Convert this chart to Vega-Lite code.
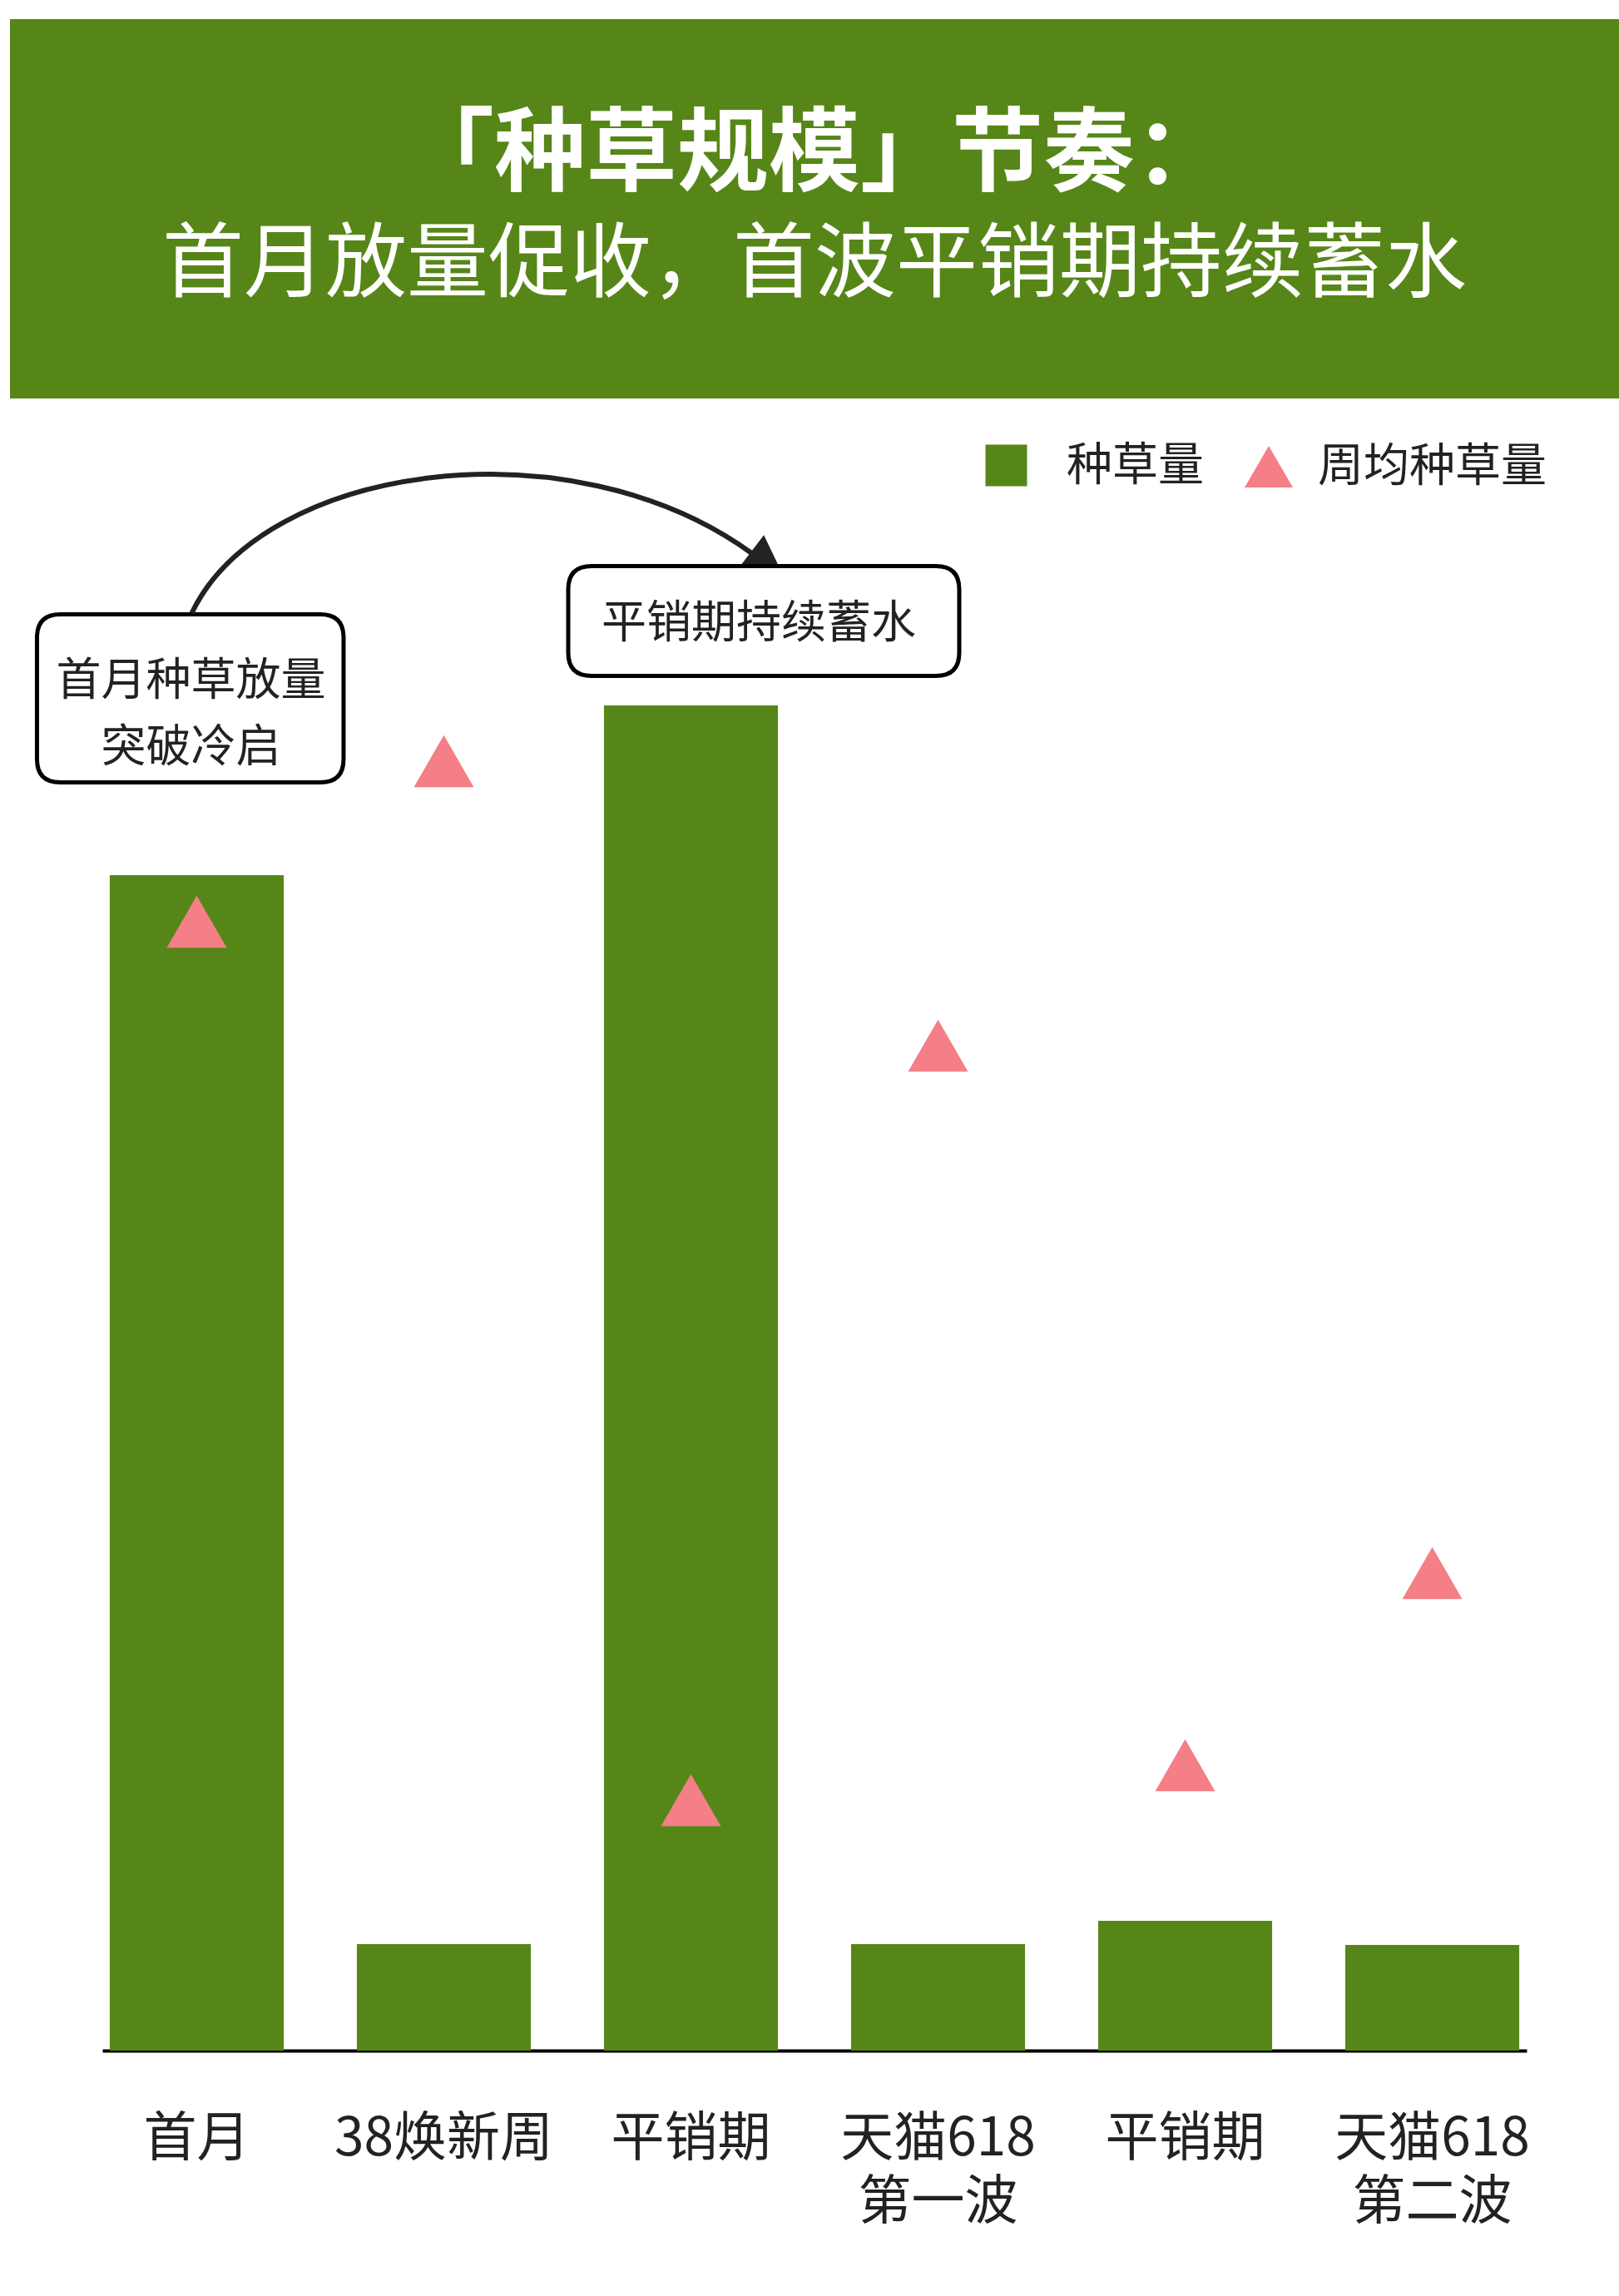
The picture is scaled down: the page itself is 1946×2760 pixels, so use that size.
{
  "$schema": "https://vega.github.io/schema/vega-lite/v6.json",
  "background": "white",
  "padding": {"left": 12, "top": 23, "right": 0, "bottom": 0},
  "spacing": 0,
  "bounds": "flush",
  "center": true,
  "config": {
    "font": "Noto Sans CJK SC",
    "view": {"stroke": null}
  },
  "datasets": {
    "stages": [
      {"stage": "首月", "seed": 1413, "weekly": 1357},
      {"stage": "38焕新周", "seed": 128, "weekly": 1550},
      {"stage": "平销期", "seed": 1617, "weekly": 301},
      {"stage": "天猫618\n第一波", "seed": 128, "weekly": 1208},
      {"stage": "平销期\n", "seed": 156, "weekly": 343},
      {"stage": "天猫618\n第二波", "seed": 127, "weekly": 574}
    ],
    "notes": [
      {"id": "a", "stage": "首月", "y": 1625.5, "note": "首月种草放量\n突破冷启"},
      {"id": "b", "stage": "平销期", "y": 1718.5, "note": "平销期持续蓄水"}
    ],
    "titles": [
      {"line": 1, "text": "「种草规模」节奏："},
      {"line": 2, "text": "首月放量促收，首波平销期持续蓄水"}
    ]
  },
  "vconcat": [
    {
      "width": 1934,
      "height": 456,
      "view": {"fill": "#578618", "stroke": null},
      "data": {"name": "titles"},
      "layer": [
        {
          "transform": [{"filter": "datum.line == 1"}],
          "mark": {"type": "text", "fontSize": 110, "fontWeight": "bold", "color": "white", "baseline": "middle", "align": "center"},
          "encoding": {
            "text": {"field": "text"},
            "y": {"field": "line", "type": "ordinal", "scale": {"type": "point", "domain": [1, 2], "range": [165, 297], "padding": 0}, "axis": null}
          }
        },
        {
          "transform": [{"filter": "datum.line == 2"}],
          "mark": {"type": "text", "fontSize": 98, "fontWeight": "normal", "color": "white", "baseline": "middle", "align": "center"},
          "encoding": {
            "text": {"field": "text"},
            "y": {"field": "line", "type": "ordinal", "scale": {"type": "point", "domain": [1, 2], "range": [165, 297], "padding": 0}, "axis": null}
          }
        }
      ]
    },
    {
      "width": 1712,
      "height": 1986,
      "view": {"stroke": null},
      "encoding": {
        "x": {
          "field": "stage",
          "type": "nominal",
          "sort": null,
          "scale": {
            "domain": ["首月", "38焕新周", "平销期", "天猫618\n第一波", "平销期\n", "天猫618\n第二波"],
            "paddingInner": 0.296,
            "paddingOuter": 0.03
          },
          "axis": {
            "title": null,
            "domainColor": "black",
            "domainWidth": 4,
            "ticks": false,
            "tickSize": 0,
            "labelAngle": 0,
            "labelPadding": 74,
            "labelFontSize": 64,
            "labelColor": "#222222",
            "labelLineHeight": 76,
            "labelBaseline": "top",
            "labelOverlap": false,
            "labelBound": false,
            "labelLimit": 600,
            "labelExpr": "split(datum.label, '\\n')",
            "grid": false
          }
        }
      },
      "layer": [
        {
          "data": {"name": "stages"},
          "mark": {"type": "bar"},
          "encoding": {
            "y": {"field": "seed", "type": "quantitative", "scale": {"domain": [0, 1986]}, "axis": null},
            "color": {
              "datum": "种草量",
              "scale": {"range": ["#578618"]},
              "legend": {
                "title": null,
                "orient": "none",
                "legendX": 1170,
                "legendY": 509,
                "padding": 0,
                "symbolType": "square",
                "symbolSize": 2500,
                "symbolStrokeWidth": 0,
                "symbolOpacity": 1,
                "labelFontSize": 55,
                "labelColor": "#222222",
                "labelOffset": 45,
                "labelLimit": 600
              }
            }
          }
        },
        {
          "data": {"name": "stages"},
          "mark": {"type": "point", "shape": "triangle-up", "filled": true, "size": 5184, "opacity": 1, "strokeWidth": 0},
          "encoding": {
            "y": {"field": "weekly", "type": "quantitative", "scale": {"domain": [0, 1986]}, "axis": null},
            "fill": {
              "datum": "周均种草量",
              "scale": {"range": ["#F47F86"]},
              "legend": {
                "title": null,
                "orient": "none",
                "legendX": 1484,
                "legendY": 509,
                "padding": 0,
                "symbolType": "triangle-up",
                "symbolSize": 3364,
                "symbolStrokeWidth": 0,
                "symbolOpacity": 1,
                "labelFontSize": 55,
                "labelColor": "#222222",
                "labelOffset": 30,
                "labelLimit": 600
              }
            }
          }
        },
        {
          "data": {"name": "notes"},
          "transform": [{"filter": "datum.id == 'a'"}],
          "mark": {
            "type": "point",
            "shape": "M -1.64 -1.01 L 1.485 -1.01 Q 1.765 -1.01 1.765 -0.73 L 1.765 0.73 Q 1.765 1.01 1.485 1.01 L -1.64 1.01 Q -1.92 1.01 -1.92 0.73 L -1.92 -0.73 Q -1.92 -1.01 -1.64 -1.01 Z",
            "size": 40000,
            "filled": false,
            "color": "black",
            "stroke": "black",
            "strokeWidth": 5,
            "opacity": 1
          },
          "encoding": {
            "y": {"field": "y", "type": "quantitative", "scale": {"domain": [0, 1986]}, "axis": null}
          }
        },
        {
          "data": {"name": "notes"},
          "transform": [{"filter": "datum.id == 'a'"}],
          "mark": {
            "type": "point",
            "shape": "M -0.06 -1.025 C 0.8 -2.825 4.5 -3.325 6.67 -1.745",
            "size": 40000,
            "filled": false,
            "color": "#222222",
            "stroke": "#222222",
            "strokeWidth": 6,
            "opacity": 1
          },
          "encoding": {
            "y": {"field": "y", "type": "quantitative", "scale": {"domain": [0, 1986]}, "axis": null}
          }
        },
        {
          "data": {"name": "notes"},
          "transform": [{"filter": "datum.id == 'a'"}],
          "mark": {
            "type": "point",
            "shape": "M 6.817 -1.962 L 6.549 -1.612 L 6.985 -1.612 Z",
            "size": 40000,
            "filled": true,
            "color": "#222222",
            "strokeWidth": 0,
            "opacity": 1
          },
          "encoding": {
            "y": {"field": "y", "type": "quantitative", "scale": {"domain": [0, 1986]}, "axis": null}
          }
        },
        {
          "data": {"name": "notes"},
          "transform": [{"filter": "datum.id == 'a'"}],
          "mark": {"type": "text", "fontSize": 54, "color": "#222222", "align": "center", "baseline": "middle", "lineBreak": "\n", "lineHeight": 80, "dx": -7, "dy": -20},
          "encoding": {
            "y": {"field": "y", "type": "quantitative", "scale": {"domain": [0, 1986]}, "axis": null},
            "text": {"field": "note"}
          }
        },
        {
          "data": {"name": "notes"},
          "transform": [{"filter": "datum.id == 'b'"}],
          "mark": {
            "type": "point",
            "shape": "M -1.195 -0.66 L 2.945 -0.66 Q 3.225 -0.66 3.225 -0.38 L 3.225 0.38 Q 3.225 0.66 2.945 0.66 L -1.195 0.66 Q -1.475 0.66 -1.475 0.38 L -1.475 -0.38 Q -1.475 -0.66 -1.195 -0.66 Z",
            "size": 40000,
            "filled": false,
            "color": "black",
            "stroke": "black",
            "strokeWidth": 5,
            "opacity": 1
          },
          "encoding": {
            "y": {"field": "y", "type": "quantitative", "scale": {"domain": [0, 1986]}, "axis": null}
          }
        },
        {
          "data": {"name": "notes"},
          "transform": [{"filter": "datum.id == 'b'"}],
          "mark": {"type": "text", "fontSize": 54, "color": "#222222", "align": "center", "baseline": "middle", "lineBreak": "\n", "lineHeight": 80, "dx": 81.5, "dy": 4},
          "encoding": {
            "y": {"field": "y", "type": "quantitative", "scale": {"domain": [0, 1986]}, "axis": null},
            "text": {"field": "note"}
          }
        }
      ]
    }
  ]
}
